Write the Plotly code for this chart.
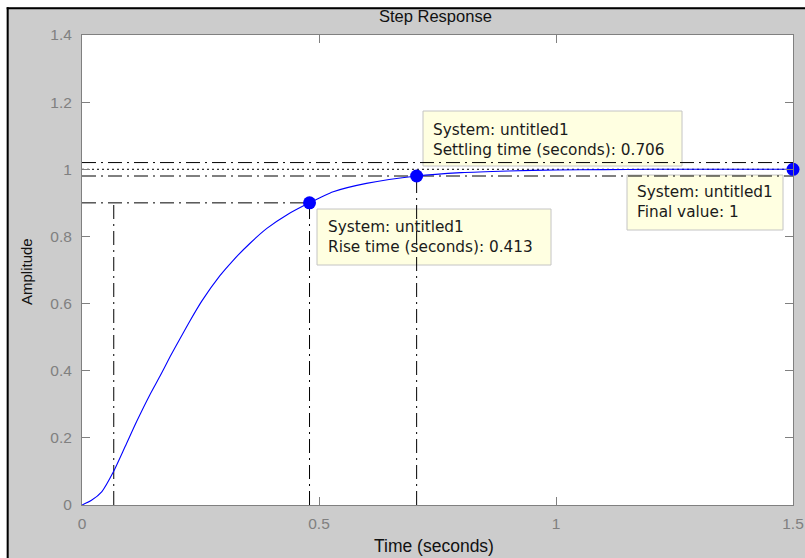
import plotly.graph_objects as go

# ---- data ----
time = [0, 0.020, 0.042, 0.066, 0.091, 0.115, 0.143, 0.165, 0.186, 0.207, 0.228,
        0.253, 0.291, 0.319, 0.354, 0.390, 0.432, 0.480, 0.530, 0.600, 0.706,
        0.800, 0.900, 1.000, 1.100, 1.200, 1.300, 1.400, 1.500]
amplitude = [0, 0.014, 0.040, 0.098, 0.174, 0.248, 0.328, 0.385, 0.442, 0.496, 0.549,
             0.608, 0.683, 0.729, 0.779, 0.824, 0.864, 0.900, 0.933, 0.958, 0.980,
             0.990, 0.995, 0.998, 0.999, 1.000, 1.000, 1.000, 1.000]

rise_low_t = 0.067      # 10 % crossing
rise_high_t = 0.480     # 90 % crossing
rise_level = 0.9
settle_t = 0.706
settle_level = 0.98
settle_band = [0.98, 1.02]
final_t = 1.5
final_value = 1.0

x_ticks = [0, 0.5, 1, 1.5]
x_tick_labels = ["0", "0.5", "1", "1.5"]
y_ticks = [0, 0.2, 0.4, 0.6, 0.8, 1.0, 1.2, 1.4]
y_tick_labels = ["0", "0.2", "0.4", "0.6", "0.8", "1", "1.2", "1.4"]

rise_text = "System: untitled1<br>Rise time (seconds): 0.413"
settle_text = "System: untitled1<br>Settling time (seconds): 0.706"
final_text = "System: untitled1<br>Final value: 1"

# ---- layout geometry (pixels) ----
W, H = 805, 558
PL, PR, PT, PB = 82, 793, 35, 505


def px(x):
    return (x - PL) / (PR - PL)


def py(y):
    return (PB - y) / (PB - PT)


DASHDOT = "14px,5px,2px,5px"
DOTTED = "2px,3px"
GRAY = "#808080"

fig = go.Figure()


def ref_line(xs, ys, dash):
    fig.add_trace(go.Scatter(x=xs, y=ys, mode="lines",
                             line=dict(color="black", width=1, dash=dash),
                             hoverinfo="skip", showlegend=False))


# settling band and final value lines
ref_line([0, final_t], [settle_band[1], settle_band[1]], DASHDOT)
ref_line([0, final_t], [settle_band[0], settle_band[0]], DASHDOT)
ref_line([0, final_t], [final_value, final_value], DOTTED)
# rise time lines
ref_line([0, rise_high_t], [rise_level, rise_level], DASHDOT)
ref_line([rise_low_t, rise_low_t], [0, rise_level], DASHDOT)
ref_line([rise_high_t, rise_high_t], [0, rise_level], DASHDOT)
# settling time vertical
ref_line([settle_t, settle_t], [0, settle_level], DASHDOT)

# response curve
fig.add_trace(go.Scatter(x=time, y=amplitude, mode="lines",
                         line=dict(color="#0000ff", width=1.1, shape="spline", smoothing=0.6),
                         showlegend=False))

# characteristic points
fig.add_trace(go.Scatter(x=[rise_high_t, settle_t, final_t],
                         y=[rise_level, settle_level, final_value],
                         mode="markers",
                         marker=dict(color="#0000ff", size=13),
                         cliponaxis=False, showlegend=False))

shapes = []
# white strips + black frame lines of the screenshot
shapes.append(dict(type="rect", xref="paper", yref="paper",
                   x0=px(-5), x1=px(W + 5), y0=py(7.3), y1=py(-5),
                   fillcolor="white", line=dict(width=0), layer="above"))
shapes.append(dict(type="rect", xref="paper", yref="paper",
                   x0=px(-5), x1=px(6.7), y0=py(H + 5), y1=py(-5),
                   fillcolor="white", line=dict(width=0), layer="above"))
shapes.append(dict(type="line", xref="paper", yref="paper",
                   x0=px(6.7), x1=px(W + 5), y0=py(8.3), y1=py(8.3),
                   line=dict(color="black", width=2), layer="above"))
shapes.append(dict(type="line", xref="paper", yref="paper",
                   x0=px(7.7), x1=px(7.7), y0=py(H + 5), y1=py(7.3),
                   line=dict(color="black", width=2), layer="above"))

# datatip boxes
BOX_FILL = "#ffffe1"
BOX_LINE = "#c4c4c4"
for (x0, y0, x1, y1) in [(423, 111, 682, 166), (627, 175, 783, 230), (317, 209, 551, 265)]:
    shapes.append(dict(type="rect", xref="paper", yref="paper",
                       x0=px(x0), x1=px(x1), y0=py(y1), y1=py(y0),
                       fillcolor=BOX_FILL, line=dict(color=BOX_LINE, width=1),
                       layer="below"))

TIP_FONT = dict(family="DejaVu Sans", size=15.3, color="#1a1a1a")
annotations = []
for (tx, ty, txt) in [(431, 140, settle_text), (635, 202, final_text), (326, 237, rise_text)]:
    annotations.append(dict(text=txt, xref="paper", yref="paper",
                            x=px(tx), y=py(ty), xanchor="left", yanchor="middle",
                            align="left", showarrow=False, font=TIP_FONT))

# titles
annotations.append(dict(text="Step Response", xref="paper", yref="paper",
                        x=px(435), y=py(16), xanchor="center", yanchor="middle",
                        showarrow=False,
                        font=dict(family="Liberation Sans, Arial", size=16.5, color="#111111")))
annotations.append(dict(text="Time (seconds)", xref="paper", yref="paper",
                        x=px(434), y=py(546), xanchor="center", yanchor="middle",
                        showarrow=False,
                        font=dict(family="Liberation Sans, Arial", size=17.5, color="#111111")))
annotations.append(dict(text="Amplitude", xref="paper", yref="paper",
                        x=px(26), y=py(272), xanchor="center", yanchor="middle",
                        textangle=-90, showarrow=False,
                        font=dict(family="Liberation Sans, Arial", size=15, color="#111111")))

axis_common = dict(showgrid=False, zeroline=False, showline=True, linecolor=GRAY,
                   linewidth=1, mirror="ticks", ticks="inside", ticklen=8,
                   tickcolor=GRAY, tickwidth=1, automargin=False,
                   tickfont=dict(family="Liberation Sans, Arial", size=15.5, color=GRAY))

fig.update_layout(
    width=W, height=H,
    margin=dict(l=PL, r=W - PR, t=PT, b=H - PB, pad=0, autoexpand=False),
    paper_bgcolor="#cccccc",
    plot_bgcolor="white",
    showlegend=False,
    shapes=shapes,
    annotations=annotations,
    xaxis=dict(range=[0, 1.5], tickvals=x_ticks, ticktext=x_tick_labels,
               ticklabelstandoff=4, **axis_common),
    yaxis=dict(range=[0, 1.4], tickvals=y_ticks, ticktext=y_tick_labels,
               ticklabelstandoff=6, **axis_common),
)

fig.write_html("out.html",
               config={"displayModeBar": False},
               post_script="document.body.style.margin='0px';document.body.style.padding='0px';")
